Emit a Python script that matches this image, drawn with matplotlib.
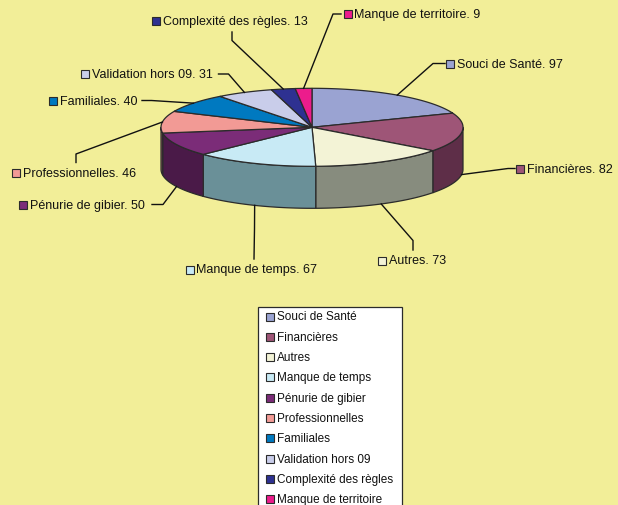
import numpy as np
import matplotlib.pyplot as plt
from matplotlib.patches import Polygon, Rectangle

plt.rcParams["font.family"] = ["Liberation Sans", "DejaVu Sans"]

# data
categories = ["Souci de Santé", "Financières", "Autres", "Manque de temps",
              "Pénurie de gibier", "Professionnelles", "Familiales",
              "Validation hors 09", "Complexité des règles", "Manque de territoire"]
values = [97, 82, 73, 67, 50, 46, 40, 31, 13, 9]
colors = ["#9AA3D2", "#9E5577", "#F3F3D6", "#C8EAF5", "#7B2C78",
          "#F29A95", "#0079C0", "#C9CDEA", "#2E3191", "#EC1C8C"]
side_colors = ["#595E7A", "#5E2E48", "#878C7E", "#6A9098", "#4A1A48",
               "#8C5856", "#00466F", "#74778A", "#1A1C55", "#891051"]

# label layout (marker left x, marker centre y) and leader line elbow / end
label_pos = [(446, 64.5), (516, 169.5), (378, 261.5), (185.5, 270.5), (19, 205.5),
             (12, 173.5), (48.5, 101.5), (80.5, 75), (152, 21.5), (343.5, 15)]
elbows = [(433, 64.5), (508, 169.5), (413, 241.5), (254.5, 230), (163, 205.5),
          (76, 155), (151.5, 101.5), (228.5, 75), (232, 41.5), (333, 15)]
ends = [(445, 64.5), (515, 169.5), (413, 251), (254, 260), (152, 205.5),
        (76, 163.5), (142, 101.5), (218.5, 75), (232, 33), (341, 15)]

bg = "#F2EE98"
edge = "#2b2b2b"
cx, cy, rx, ry, depth = 312, 128.3, 151, 39, 42

fig = plt.figure(figsize=(6.18, 5.06), dpi=100, facecolor=bg)
ax = fig.add_axes([0, 0, 1, 1])
ax.set_xlim(0, 618)
ax.set_ylim(506, 0)
ax.axis("off")


def pt(a, dy=0.0):
    t = np.radians(a)
    return cx + rx * np.sin(t), cy - ry * np.cos(t) + dy


def arc(a, b, dy=0.0):
    n = max(int(abs(b - a)) * 2, 2)
    return [pt(t, dy) for t in np.linspace(a, b, n)]


total = sum(values)
bounds = np.concatenate([[0], np.cumsum(values)]) / total * 360

# side walls (front half only)
for i, c in enumerate(side_colors):
    lo, hi = max(bounds[i], 90), min(bounds[i + 1], 270)
    if lo < hi:
        top = arc(lo, hi)
        bot = arc(lo, hi, depth)[::-1]
        ax.add_patch(Polygon(top + bot, closed=True, fc=c, ec=edge, lw=0.9, zorder=2))

# top faces
for i, c in enumerate(colors):
    ax.add_patch(Polygon([(cx, cy)] + arc(bounds[i], bounds[i + 1]), closed=True,
                         fc=c, ec=edge, lw=0.9, zorder=3))

# data labels with leader lines
for i, name in enumerate(categories):
    mid = (bounds[i] + bounds[i + 1]) / 2
    dy = depth if np.cos(np.radians(mid)) < 0 else 0
    ax0, ay0 = pt(mid, dy)
    ex, ey = elbows[i]
    nx, ny = ends[i]
    ax.plot([ax0, ex, nx], [ay0, ey, ny], color="#111111", lw=1.0, zorder=4)
    mx, my = label_pos[i]
    ax.add_patch(Rectangle((mx, my - 4), 8, 8, fc=colors[i], ec=edge, lw=0.8, zorder=5))
    ax.text(mx + 11, my, f"{name}. {values[i]}", fontsize=9.0, va="center", ha="left",
            color="#111111", zorder=5)

# legend box
ax.add_patch(Rectangle((257.5, 307.5), 144, 210, fc="white", ec=edge, lw=0.9, zorder=5))
for i, name in enumerate(categories):
    y = 317.5 + i * 20.3
    ax.add_patch(Rectangle((265.5, y - 4), 8, 8, fc=colors[i], ec=edge, lw=0.8, zorder=6))
    ax.text(277, y, name, fontsize=8.5, va="center", ha="left", color="#111111", zorder=6)

fig.savefig("out.png", dpi=100, facecolor=bg)
